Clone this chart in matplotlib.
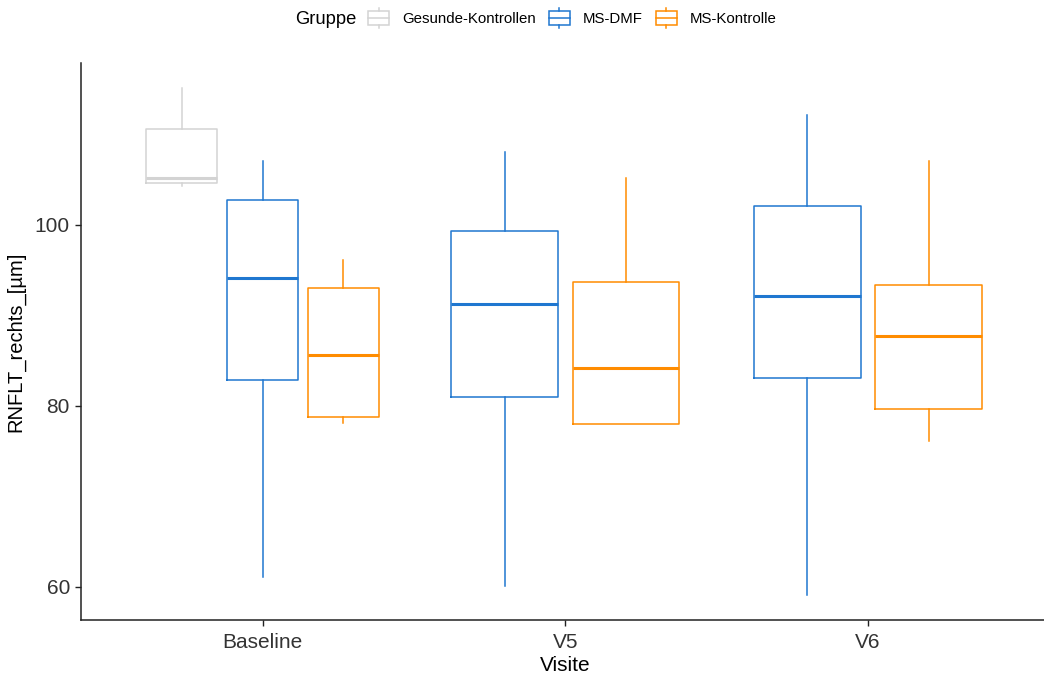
import numpy as np
import matplotlib
matplotlib.use("Agg")
import matplotlib.pyplot as plt
from matplotlib.legend_handler import HandlerBase
from matplotlib.patches import Rectangle
from matplotlib.lines import Line2D

plt.rcParams['font.family'] = ['Liberation Sans', 'DejaVu Sans']

# Visits on the x axis and the groups shown in the legend
visits = ['Baseline', 'V5', 'V6']
groups = ['Gesunde-Kontrollen', 'MS-DMF', 'MS-Kontrolle']
colors = ['#d3d3d3', '#1f77d0', '#ff8c00']

# Five-number summaries per visit: (lower whisker, Q1, median, Q3, upper whisker)
# None = group not measured at that visit
healthy_stats = [(104.3, 104.6, 105.2, 110.6, 115.1), None, None]
dmf_stats = [(61.1, 82.8, 94.1, 102.7, 107.1),
             (60.1, 81.0, 91.2, 99.3, 108.1),
             (59.1, 83.1, 92.1, 102.1, 112.2)]
ctrl_stats = [(78.1, 78.7, 85.6, 93.0, 96.1),
              (78.0, 78.0, 84.2, 93.7, 105.2),
              (76.1, 79.6, 87.7, 93.3, 107.1)]
all_stats = [healthy_stats, dmf_stats, ctrl_stats]

y_ticks = [60, 80, 100]

fig = plt.figure(figsize=(10.44, 6.81), dpi=100)
ax = fig.add_axes([81 / 1044, 1 - 620 / 681, (1049.6 - 81) / 1044, (620 - 63) / 681])

dodge_total = 0.8
for vi, visit in enumerate(visits):
    present = [g for g in range(len(groups)) if all_stats[g][vi] is not None]
    n = len(present)
    slot = dodge_total / n
    for k, g in enumerate(present):
        lo, q1, med, q3, hi = all_stats[g][vi]
        pos = (vi + 1) + (k - (n - 1) / 2) * slot
        st = dict(whislo=lo, q1=q1, med=med, q3=q3, whishi=hi, fliers=[])
        c = colors[g]
        ax.bxp([st], positions=[pos], widths=[slot * 0.88], showcaps=False,
               showfliers=False, patch_artist=False,
               boxprops=dict(color=c, linewidth=1.1),
               whiskerprops=dict(color=c, linewidth=1.1),
               medianprops=dict(color=c, linewidth=2.2, solid_capstyle='butt'))

ax.set_xlim(0.4, 3.6)
ax.set_ylim(56.3, 117.9)
ax.set_xticks([1, 2, 3])
ax.set_xticklabels(visits)
ax.set_yticks(y_ticks)
ax.tick_params(axis='both', labelsize=15, colors='#222222', length=4, width=1.0,
               labelcolor='#333333')
ax.tick_params(axis='x', pad=5)
ax.tick_params(axis='y', pad=4)
for side in ['top', 'right']:
    ax.spines[side].set_visible(False)
for side in ['left', 'bottom']:
    ax.spines[side].set_color('#222222')
    ax.spines[side].set_linewidth(1.1)
ax.set_xlabel('Visite', fontsize=15, color='black', labelpad=3)
ax.set_ylabel('RNFLT_rechts_[µm]', fontsize=14.5, color='black', labelpad=7)


class BoxKeyHandler(HandlerBase):
    """Small boxplot glyph used as legend key."""

    def create_artists(self, legend, orig_handle, xdescent, ydescent, width,
                       height, fontsize, trans):
        c = orig_handle.get_color()
        x0 = -xdescent
        y0 = -ydescent
        box = Rectangle((x0, y0 + height * 0.14), width, height * 0.72, fill=False,
                        edgecolor=c, linewidth=1.1, transform=trans)
        med = Line2D([x0, x0 + width], [y0 + height * 0.5] * 2, color=c, lw=1.1,
                     transform=trans)
        cx = x0 + width / 2
        wt = Line2D([cx, cx], [y0 + height * 0.86, y0 + height], color=c, lw=1.1,
                    transform=trans)
        wb = Line2D([cx, cx], [y0, y0 + height * 0.14], color=c, lw=1.1,
                    transform=trans)
        return [box, med, wt, wb]


handles = [Line2D([], [], color=c) for c in colors]
fig.text(295 / 1044, 1 - 19 / 681, 'Gruppe', fontsize=13.2, va='center', ha='left')
leg = fig.legend(handles, groups, loc='center left',
                 bbox_to_anchor=(368 / 1044, 1 - 18 / 681), ncol=3, frameon=False,
                 fontsize=10.8, handler_map={Line2D: BoxKeyHandler()},
                 handlelength=1.4, handleheight=1.6, handletextpad=0.87,
                 columnspacing=0.87, borderaxespad=0, borderpad=0)

fig.savefig('out.png', dpi=100)
